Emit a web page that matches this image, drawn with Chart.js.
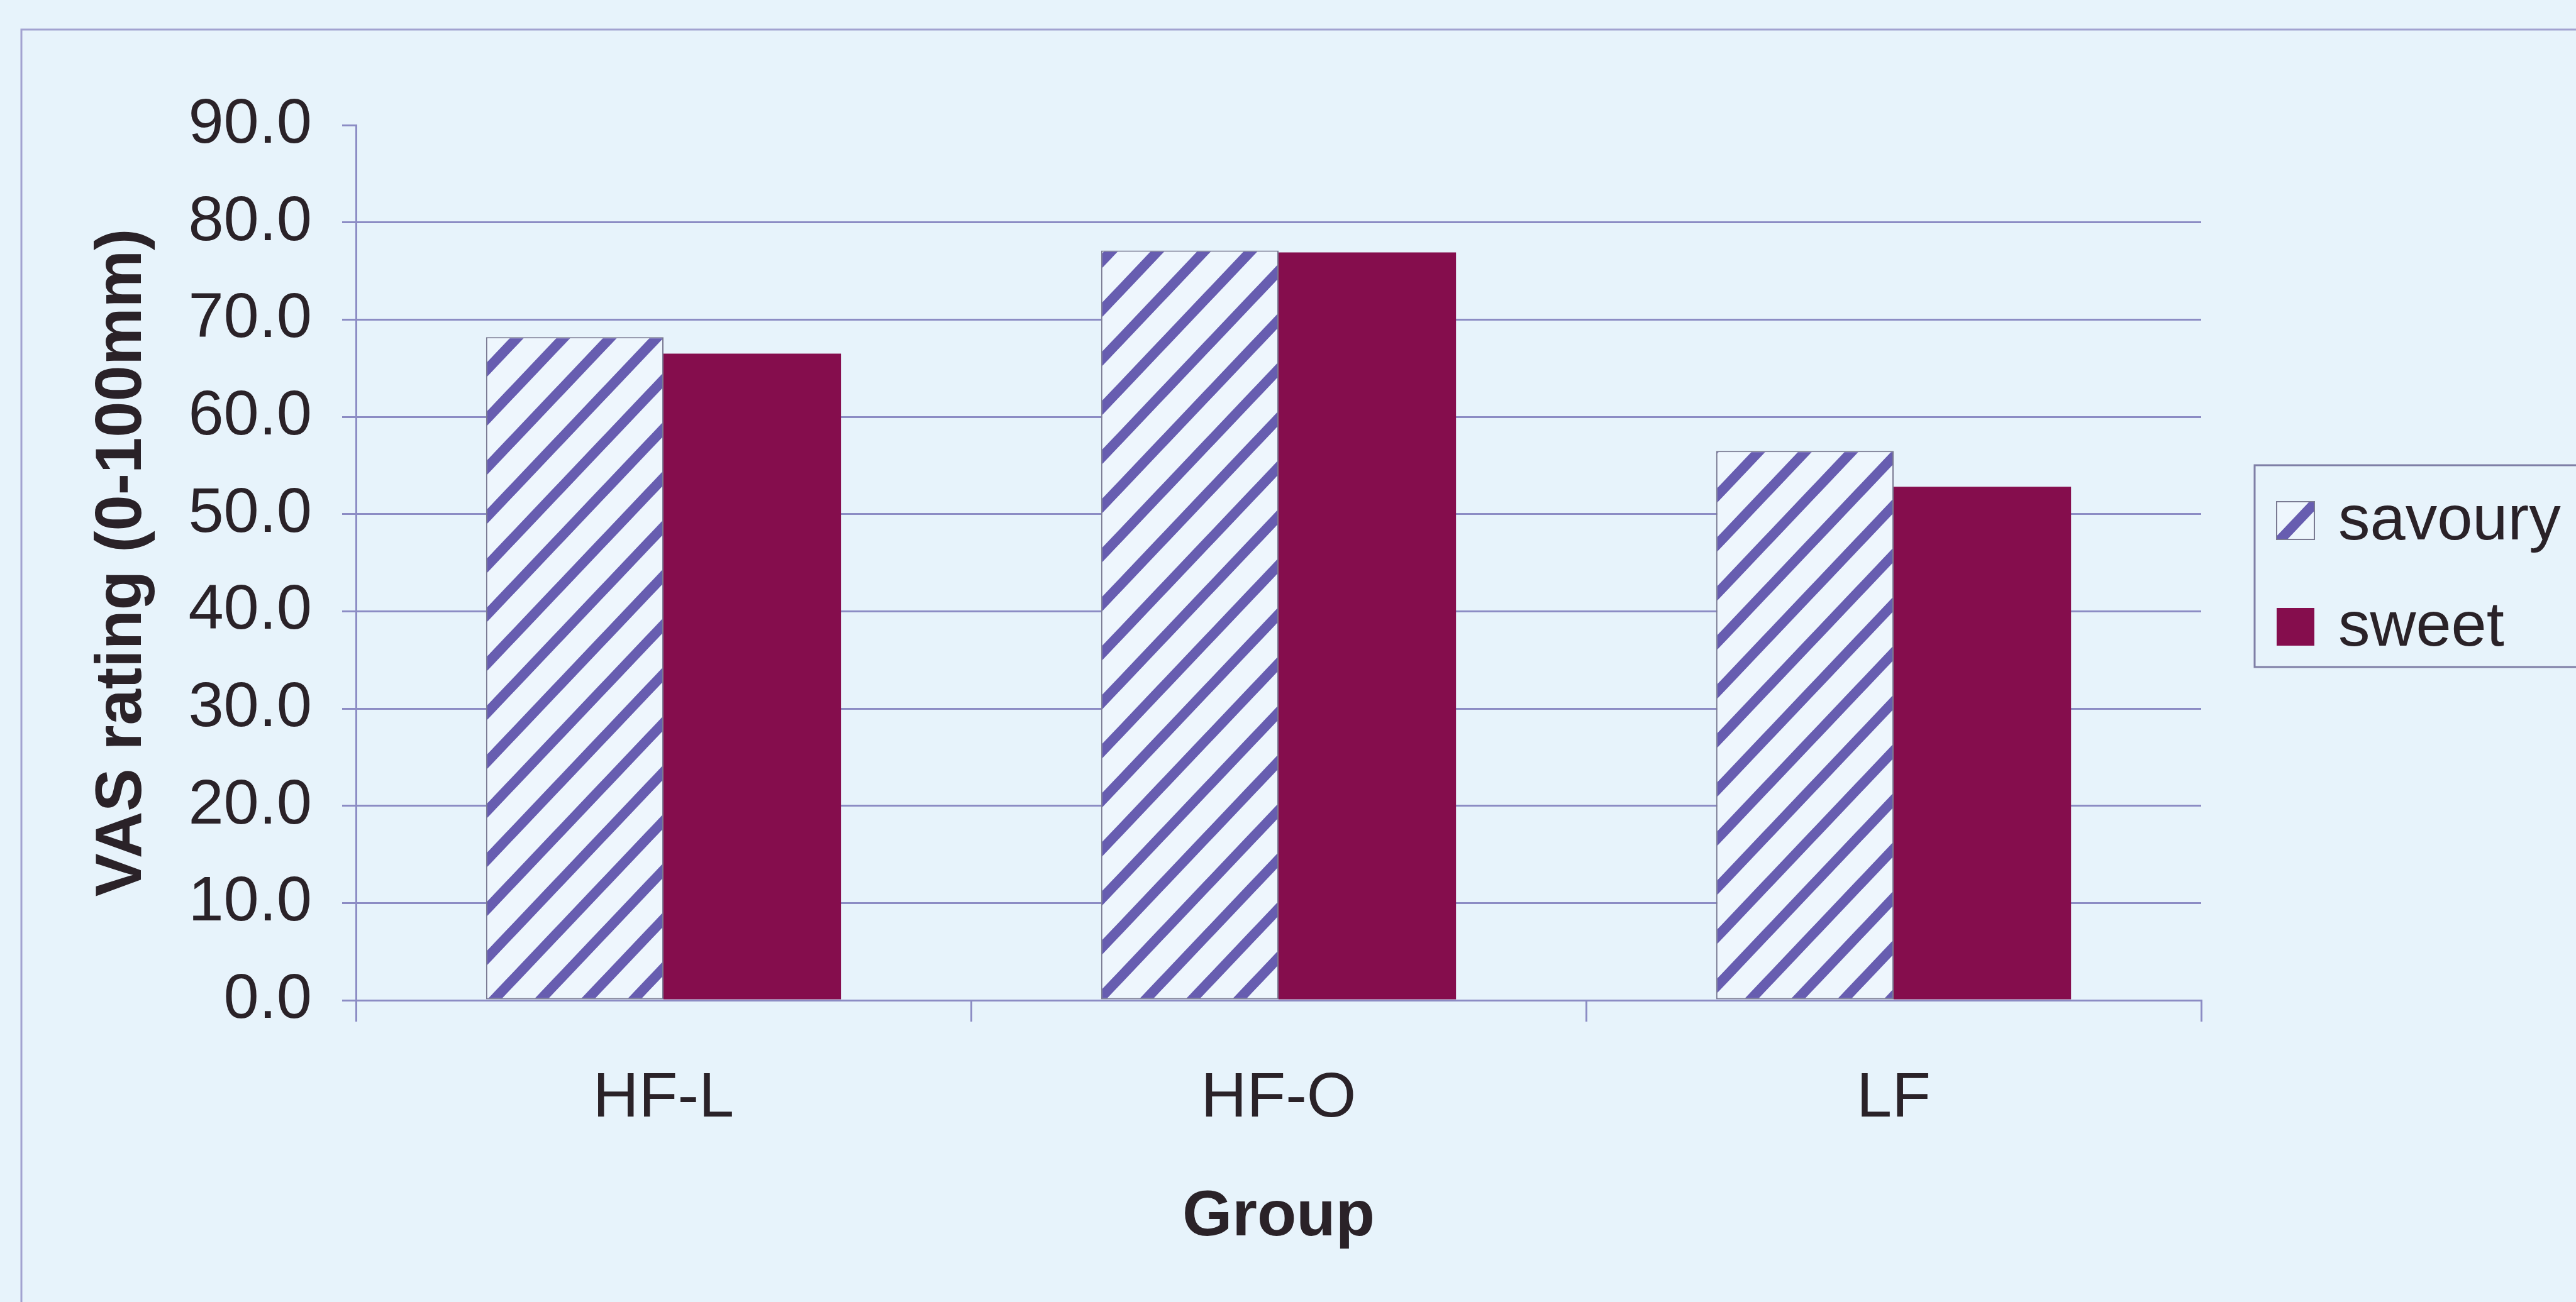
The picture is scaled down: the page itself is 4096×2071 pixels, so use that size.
<!DOCTYPE html>
<html>
<head>
<meta charset="utf-8">
<title>VAS rating by group</title>
<style>
  html, body { margin: 0; padding: 0; background: #e7f3fb; overflow: hidden; }
  canvas { display: block; }
</style>
<script src="https://cdn.jsdelivr.net/npm/chart.js@4.4.1/dist/chart.umd.min.js"></script>
</head>
<body>
<canvas id="chart" width="4096" height="2071"></canvas>
<script>
// ---- data ----
const groups = ['HF-L', 'HF-O', 'LF'];
const savouryValues = [68.2, 77.1, 56.5];
const sweetValues = [66.5, 76.9, 52.8];
const seriesNames = ['savoury', 'sweet'];
const yTickValues = [0, 10, 20, 30, 40, 50, 60, 70, 80, 90];
const xAxisTitle = 'Group';
const yAxisTitle = 'VAS rating (0-100mm)';

// ---- styling ----
const FONT = '"Liberation Sans", Arial, sans-serif';
const pageColor = '#e7f3fb';
const textColor = '#2a2228';
const lineColor = '#8c8cc4';
const frameColor = '#a2a2d0';
const stripeColor = '#675db0';
const stripeGround = '#eef6fd';
const sweetColor = '#850d4d';

// diagonal "/" hatching for the savoury series (tile repeats seamlessly)
function makeHatch() {
  const px = 74, py = 78;
  const tile = document.createElement('canvas');
  tile.width = px; tile.height = py;
  const t = tile.getContext('2d');
  t.fillStyle = stripeGround;
  t.fillRect(0, 0, px, py);
  t.strokeStyle = stripeColor;
  t.lineWidth = 16;
  t.beginPath();
  // lines x/px + y/py = k for k = 0, 1, 2
  for (let k = 0; k <= 2; k++) {
    const ext = 0.3;
    t.moveTo((k + ext) * px, -ext * py);
    t.lineTo((k - 1 - ext) * px, (1 + ext) * py);
  }
  t.stroke();
  return document.getElementById('chart').getContext('2d').createPattern(tile, 'repeat');
}
const hatch = makeHatch();

// page background and outer chart frame
const backdrop = {
  id: 'backdrop',
  beforeDraw(chart) {
    const ctx = chart.ctx;
    ctx.save();
    ctx.fillStyle = pageColor;
    ctx.fillRect(0, 0, chart.width, chart.height);
    ctx.strokeStyle = frameColor;
    ctx.lineWidth = 3;
    ctx.beginPath();
    ctx.moveTo(34, chart.height + 5);
    ctx.lineTo(34, 47);
    ctx.lineTo(chart.width + 5, 47);
    ctx.stroke();
    ctx.restore();
  }
};

// boxed legend at the right, partly running off the page edge
const sideLegend = {
  id: 'sideLegend',
  afterDraw(chart) {
    const ctx = chart.ctx;
    const boxLeft = 3585, boxTop = 740, boxBottom = 1061;
    ctx.save();
    ctx.strokeStyle = '#7f7fa6';
    ctx.lineWidth = 3;
    ctx.beginPath();
    ctx.moveTo(chart.width + 5, boxTop);
    ctx.lineTo(boxLeft, boxTop);
    ctx.lineTo(boxLeft, boxBottom);
    ctx.lineTo(chart.width + 5, boxBottom);
    ctx.stroke();
    const baselines = [858, 1027];
    ctx.font = '101px ' + FONT;
    ctx.textBaseline = 'alphabetic';
    ctx.textAlign = 'left';
    chart.data.datasets.forEach((ds, i) => {
      const b = baselines[i];
      ctx.fillStyle = ds.backgroundColor;
      ctx.fillRect(3620, b - 60, 60, 60);
      if (ds.borderWidth) {
        ctx.strokeStyle = ds.borderColor;
        ctx.lineWidth = 2;
        ctx.strokeRect(3620, b - 60, 60, 60);
      }
      ctx.fillStyle = textColor;
      ctx.fillText(ds.label, 3718, b);
    });
    ctx.restore();
  }
};

new Chart(document.getElementById('chart'), {
  type: 'bar',
  data: {
    labels: groups,
    datasets: [
      {
        label: seriesNames[0],
        data: savouryValues,
        backgroundColor: hatch,
        borderColor: '#7a7a92',
        borderWidth: 2,
        borderSkipped: false
      },
      {
        label: seriesNames[1],
        data: sweetValues,
        backgroundColor: sweetColor,
        borderWidth: 0
      }
    ]
  },
  options: {
    responsive: false,
    devicePixelRatio: 1,
    animation: false,
    layout: { padding: { top: 199, right: 596, left: 0, bottom: 0 } },
    datasets: { bar: { categoryPercentage: 0.577, barPercentage: 1.0 } },
    plugins: {
      legend: { display: false },
      tooltip: { enabled: false }
    },
    scales: {
      x: {
        afterFit(scale) { scale.height = 480; },
        grid: {
          offset: true,
          drawOnChartArea: false,
          drawTicks: true,
          tickLength: 34,
          color: lineColor,
          lineWidth: 3
        },
        border: { display: true, color: lineColor, width: 3 },
        ticks: {
          color: textColor,
          font: { family: FONT, size: 101 },
          padding: 63,
          maxRotation: 0,
          autoSkip: false
        },
        title: {
          display: true,
          text: xAxisTitle,
          color: textColor,
          font: { family: FONT, size: 102, weight: 'bold' },
          padding: { top: 0, bottom: 73 }
        }
      },
      y: {
        min: 0,
        max: 90,
        afterFit(scale) { scale.width = 566; },
        afterBuildTicks(scale) { scale.ticks = yTickValues.map(v => ({ value: v })); },
        grid: {
          color: ctx => (ctx.tick && ctx.tick.value === 90 ? 'rgba(0,0,0,0)' : lineColor),
          tickColor: lineColor,
          lineWidth: 3,
          drawTicks: true,
          tickLength: 22
        },
        border: { display: true, color: lineColor, width: 3 },
        ticks: {
          color: textColor,
          font: { family: FONT, size: 101 },
          padding: 48,
          callback: v => Number(v).toFixed(1)
        },
        title: {
          display: true,
          text: yAxisTitle,
          color: textColor,
          font: { family: FONT, size: 103, weight: 'bold' },
          padding: { top: 134, bottom: 0 }
        }
      }
    }
  },
  plugins: [backdrop, sideLegend]
});
</script>
</body>
</html>
